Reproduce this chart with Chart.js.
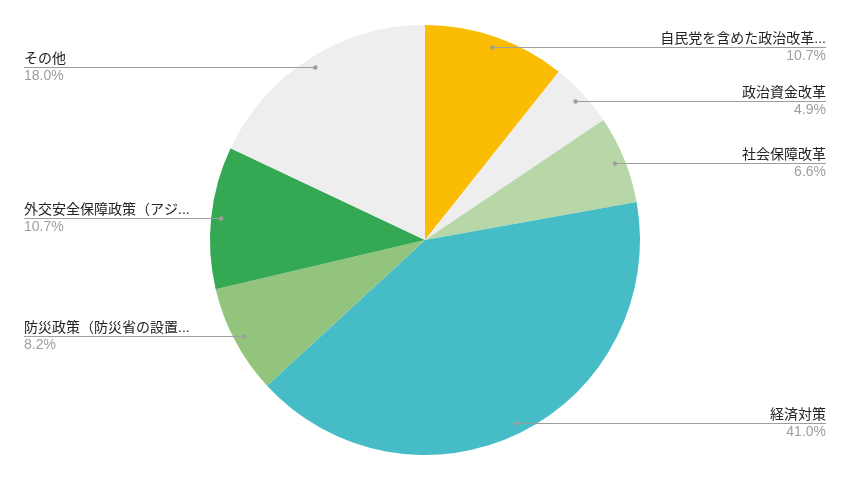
<!DOCTYPE html>
<html>
<head>
<meta charset="utf-8">
<script src="https://cdn.jsdelivr.net/npm/chart.js@4"></script>
<style>
  html, body { margin: 0; padding: 0; background: #fff; }
  #wrap { width: 850px; height: 480px; }
</style>
</head>
<body>
<div id="wrap"><canvas id="pieChart" width="850" height="480"></canvas></div>
<script>
// ラベル（元の図と同じく省略表示）
const labels = [
    "自民党を含めた政治改革...",
    "政治資金改革",
    "社会保障改革",
    "経済対策",
    "防災政策（防災省の設置...",
    "外交安全保障政策（アジ...",
    "その他"
];
const shares = [10.7, 4.9, 6.6, 41.0, 8.2, 10.7, 18.0];
const colors = ['#fbbc04', '#eeeeee', '#b7d7a8', '#46bdc6', '#93c47d', '#34a853', '#eeeeee'];

const FONT = '"Liberation Sans", "Noto Sans CJK JP", sans-serif';

// --- 外側ラベル（引き出し線つき） ---
const calloutPlugin = {
    id: 'callouts',
    afterDatasetsDraw(chart) {
        const ctx = chart.ctx;
        const meta = chart.getDatasetMeta(0);
        const leftX = 24;
        const rightX = 826;
        ctx.save();
        meta.data.forEach((arc, i) => {
            const p = arc.getProps(['x', 'y', 'startAngle', 'endAngle', 'outerRadius'], true);
            const mid = (p.startAngle + p.endAngle) / 2;
            const r = p.outerRadius * 0.953;
            const dx = p.x + Math.cos(mid) * r;
            const dy = Math.round(p.y + Math.sin(mid) * r) + 0.5;
            const right = Math.cos(mid) > 0;
            const lineEnd = right ? rightX : leftX;

            ctx.strokeStyle = '#9e9e9e';
            ctx.lineWidth = 1;
            ctx.beginPath();
            ctx.moveTo(dx, dy);
            ctx.lineTo(lineEnd, dy);
            ctx.stroke();

            ctx.fillStyle = '#9e9e9e';
            ctx.beginPath();
            ctx.arc(dx, dy, 2.2, 0, Math.PI * 2);
            ctx.fill();

            ctx.textAlign = right ? 'right' : 'left';
            ctx.font = '14px ' + FONT;
            ctx.fillStyle = '#222222';
            ctx.textBaseline = 'bottom';
            ctx.fillText(labels[i], lineEnd, dy - 1.5);
            ctx.fillStyle = '#9e9e9e';
            ctx.textBaseline = 'top';
            ctx.fillText(shares[i].toFixed(1) + '%', lineEnd, dy + 1.5);
        });
        ctx.restore();
    }
};

const pieChart = new Chart(
    document.getElementById("pieChart").getContext("2d"),
    {
        type: 'pie',
        data: {
            labels: labels,
            datasets: [{
                data: shares,
                backgroundColor: colors,
                borderWidth: 0
            }]
        },
        options: {
            responsive: false,
            animation: false,
            layout: {
                padding: { top: 25, bottom: 25 }
            },
            plugins: {
                legend: { display: false },
                tooltip: { enabled: false }
            },
            events: []
        },
        plugins: [calloutPlugin]
    }
);
</script>
</body>
</html>
